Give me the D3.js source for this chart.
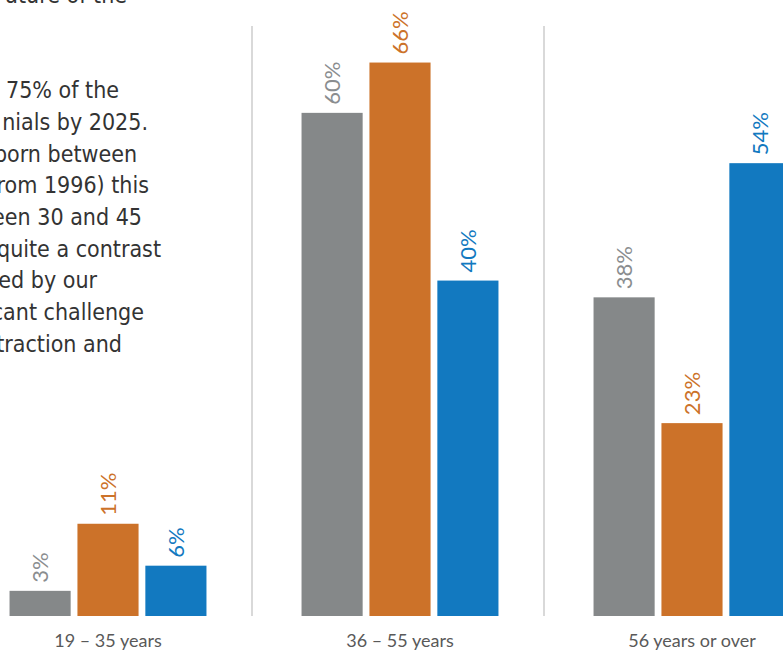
<!DOCTYPE html>
<html>
<head>
<meta charset="utf-8">
<script src="https://cdn.jsdelivr.net/npm/d3@7"></script>
<style>
  html, body { margin: 0; padding: 0; background: #ffffff; }
  svg { display: block; }
</style>
</head>
<body>
<svg id="chart" width="783" height="650"></svg>
<script>
// Age bands and survey series
const ageGroups = ["19 – 35 years", "36 – 55 years", "56 years or over"];
const seriesNames = ["Series A", "Series B", "Series C"];
const seriesA = [3, 60, 38];
const seriesB = [11, 66, 23];
const seriesC = [6, 40, 54];
const valueLabels = ["3%", "60%", "38%", "11%", "66%", "23%", "6%", "40%", "54%"];

// Paragraph beside the chart (left part runs off the page edge)
const noteLines = [
  "ature of the", "", "",
  "75% of the",
  "nials by 2025.",
  "born between",
  "rom 1996) this",
  "een 30 and 45",
  "quite a contrast",
  "ed by our",
  "cant challenge",
  "traction and"
];

const colors = ["#858889", "#CC7229", "#1279C0"];
const labelColors = ["#8A8D8F", "#CC7229", "#1279C0"];

const svg = d3.select("#chart");
const baseY = 616;

// Outer band per age group, inner band per series
const x0 = d3.scaleBand().domain(ageGroups).range([-40, 836]).paddingInner(0).paddingOuter(0);
const x1 = d3.scaleBand().domain(seriesNames)
  .range([2, x0.bandwidth() + 2]).paddingInner(0.1).paddingOuter(0.7);
const y = d3.scaleLinear().domain([0, 70]).range([baseY, 29]);

const rows = ageGroups.map((g, i) => ({
  group: g,
  values: [seriesA[i], seriesB[i], seriesC[i]].map((v, s) => ({
    series: seriesNames[s], s, v, label: valueLabels[s * 3 + i]
  }))
}));

// Paragraph text, right ends of each line
const noteRight = [127, 0, 0, 119, 148, 137, 149, 142, 161, 97, 144, 122];
svg.append("g")
  .attr("font-family", "'DejaVu Sans Condensed', 'DejaVu Sans', sans-serif")
  .style("font-stretch", "condensed")
  .attr("font-size", 23)
  .attr("fill", "#333333")
  .selectAll("text")
  .data(noteLines)
  .join("text")
  .attr("x", (d, i) => noteRight[i])
  .attr("y", (d, i) => 3 + i * 31.7)
  .attr("text-anchor", "end")
  .text(d => d);

// Separators between age groups
svg.append("g")
  .selectAll("line")
  .data(ageGroups.slice(1))
  .join("line")
  .attr("x1", d => x0(d))
  .attr("x2", d => x0(d))
  .attr("y1", 26)
  .attr("y2", baseY)
  .attr("stroke", "#d9d9d9")
  .attr("stroke-width", 2);

// Bars and value labels
const groups = svg.append("g")
  .selectAll("g")
  .data(rows)
  .join("g")
  .attr("transform", d => `translate(${x0(d.group)},0)`);

groups.selectAll("rect")
  .data(d => d.values)
  .join("rect")
  .attr("x", d => x1(d.series))
  .attr("width", x1.bandwidth())
  .attr("y", d => y(d.v))
  .attr("height", d => baseY - y(d.v))
  .attr("fill", d => colors[d.s]);

groups.selectAll("text")
  .data(d => d.values)
  .join("text")
  .attr("transform", d => `translate(${x1(d.series) + x1.bandwidth() / 2},${y(d.v) - 8}) rotate(-90)`)
  .attr("dy", "0.36em")
  .attr("text-anchor", "start")
  .attr("font-family", "Lato, sans-serif")
  .attr("font-size", 22)
  .attr("fill", d => labelColors[d.s])
  .text(d => d.label);

// Category axis
const axis = d3.axisBottom(x0).tickSize(0).tickPadding(18);
const ax = svg.append("g")
  .attr("transform", `translate(2,${baseY})`)
  .call(axis);
ax.select(".domain").remove();
ax.selectAll("text")
  .attr("font-family", "Lato, sans-serif")
  .attr("font-size", 18)
  .attr("fill", "#595959");
</script>
</body>
</html>
